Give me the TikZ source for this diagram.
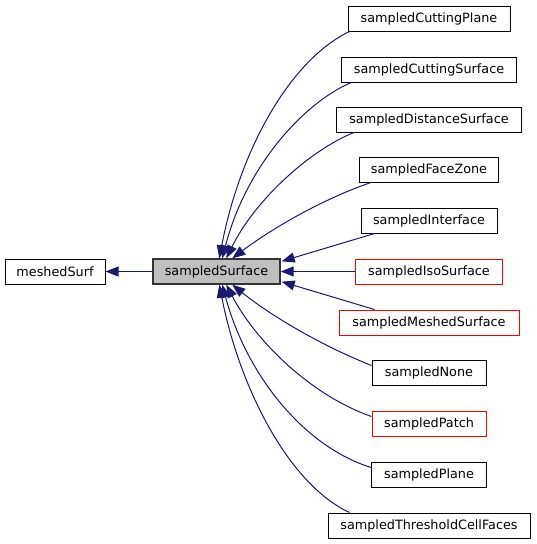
\documentclass[tikz,border=0pt]{standalone}
\usepackage{fontspec}
\setmainfont{DejaVu Sans}
\usetikzlibrary{arrows.meta}
\definecolor{edgeblue}{HTML}{191970}
\definecolor{ssgray}{HTML}{BFBFBF}
\begin{document}
\begin{tikzpicture}[x=1pt,y=-1pt,
  box/.style={draw=black,line width=1pt,minimum height=25pt,inner sep=0pt,
    font=\fontsize{12.8}{15}\selectfont,fill=white},
  redbox/.style={box,draw=red},
  edge/.style={draw=edgeblue,line width=1pt,
    {Triangle[length=13pt,width=10pt]}-}]
\useasboundingbox (0,0) rectangle (536,544);
\node[box,minimum width=100pt] (ms) at (55,271.5) {meshedSurf};
\node[box,minimum width=127pt,fill=ssgray,draw=black!80,line width=1.4pt] (ss) at (216.5,271.5) {sampledSurface};
\node[box,minimum width=162pt] (cp) at (429,18.5) {sampledCuttingPlane};
\node[box,minimum width=175pt] (cs) at (429,69.5) {sampledCuttingSurface};
\node[box,minimum width=185pt] (ds) at (429,119.5) {sampledDistanceSurface};
\node[box,minimum width=139pt] (fz) at (429,169.5) {sampledFaceZone};
\node[box,minimum width=136pt] (if) at (429,220.5) {sampledInterface};
\node[redbox,minimum width=147pt] (is) at (429,271.5) {sampledIsoSurface};
\node[redbox,minimum width=180pt] (mes) at (429,322.5) {sampledMeshedSurface};
\node[box,minimum width=114pt] (no) at (429,372.5) {sampledNone};
\node[redbox,minimum width=114pt] (pa) at (429,423.5) {sampledPatch};
\node[box,minimum width=115pt] (pl) at (429,474.5) {sampledPlane};
\node[box,minimum width=202pt] (tc) at (429,525.5) {sampledThresholdCellFaces};

\draw[edge] (ms.east) -- (ss.west);
\draw[edge] ([xshift=67]ss.north west) .. controls (240,150) and (290,60) .. ([xshift=2]cp.south west);
\draw[edge] ([xshift=70]ss.north west) .. controls (245,170) and (300,105) .. ([xshift=10]cs.south west);
\draw[edge] ([xshift=74]ss.north west) .. controls (255,200) and (310,150) .. ([xshift=18]ds.south west);
\draw[edge] ([xshift=80]ss.north west) .. controls (270,230) and (320,200) .. ([xshift=12]fz.south west);
\draw[edge] ([xshift=1,yshift=-3]ss.north east) -- ([xshift=14]if.south west);
\draw[edge] (ss.east) -- (is.west);
\draw[edge] ([xshift=1,yshift=3]ss.south east) -- ([xshift=36]mes.north west);
\draw[edge] ([xshift=80]ss.south west) .. controls (270,315) and (320,345) .. ([yshift=-6]no.north west);
\draw[edge] ([xshift=74]ss.south west) .. controls (255,340) and (310,395) .. ([yshift=-6]pa.north west);
\draw[edge] ([xshift=70]ss.south west) .. controls (245,370) and (300,445) .. ([yshift=-6]pl.north west);
\draw[edge] ([xshift=67]ss.south west) .. controls (240,390) and (290,485) .. ([xshift=22]tc.north west);
\end{tikzpicture}
\end{document}
